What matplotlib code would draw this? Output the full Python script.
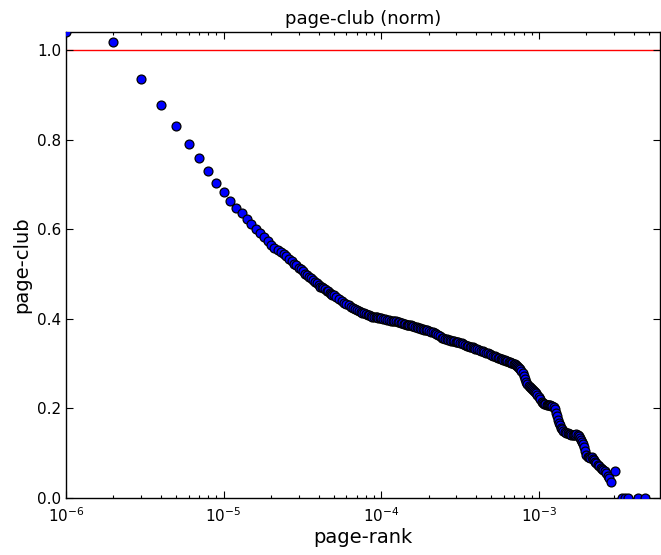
import matplotlib
matplotlib.use("Agg")
import matplotlib.pyplot as plt
from matplotlib.ticker import LogLocator, LogFormatterMathtext

# page-rank given as rank units of 1e-6
rank = [1, 2, 3, 4, 5, 6, 7, 8, 9, 10, 11, 12, 13, 14, 15, 16, 17, 18, 19, 20,
        21, 22, 23, 24, 25, 26, 27, 28, 29, 30, 31, 32, 33, 34, 35, 36, 37, 38, 39, 40,
        41, 42, 43, 44, 45, 46, 47, 48, 49, 50,
        52, 54, 56, 58, 60, 62, 64, 66, 68, 70, 72, 74, 76, 78, 80, 82, 84, 86, 88, 90,
        92, 94, 96, 98, 100,
        103, 106, 109, 112, 115, 118, 121, 124, 127, 130, 133, 136, 139, 142, 145, 148,
        151, 154, 157, 160, 164, 168, 172, 176, 180, 184, 188, 192, 196, 200,
        206, 212, 218, 224, 230, 236, 242, 248, 254, 260, 266, 272, 278, 284, 290, 296,
        302, 308, 316, 324, 332, 340, 348, 356, 364, 372, 380, 388, 396, 404,
        416, 428, 440, 452, 464, 476, 488, 500, 512, 524, 536, 548, 560, 572, 584, 596,
        608, 620, 632, 644, 656, 668, 680, 692, 704, 716, 728, 740, 752, 764, 776, 788, 800,
        815, 830, 845, 860, 875, 890, 905, 920, 935, 950, 965, 980, 1000,
        1020, 1040, 1060, 1080, 1100, 1120, 1140, 1160, 1180, 1200, 1220, 1240, 1260,
        1280, 1300, 1320, 1340, 1360, 1380, 1400, 1430, 1460, 1490, 1520, 1550, 1580,
        1610, 1640, 1670, 1700, 1730, 1760, 1790, 1820, 1850, 1880, 1910, 1940, 1970,
        2000, 2040, 2080, 2120, 2160, 2200, 2240, 2280, 2320, 2370, 2420, 2470, 2520,
        2570, 2620, 2680, 2740, 2800, 2860, 3050, 3350, 3500, 3700, 4250, 4700]
club = [1.04, 1.017, 0.934, 0.876, 0.830, 0.789, 0.758, 0.729, 0.704, 0.682, 0.663,
        0.647, 0.635, 0.622, 0.612, 0.601, 0.591, 0.582, 0.573, 0.565,
        0.559, 0.554, 0.549, 0.545, 0.540, 0.534, 0.528, 0.523, 0.519, 0.514,
        0.510, 0.506, 0.501, 0.497, 0.493, 0.490, 0.486, 0.483, 0.479, 0.475,
        0.472, 0.470, 0.468, 0.466, 0.463, 0.461, 0.458, 0.456, 0.454, 0.452,
        0.448, 0.444, 0.440, 0.436, 0.433, 0.430, 0.427, 0.424, 0.422, 0.419,
        0.417, 0.415, 0.413, 0.412, 0.410, 0.409, 0.408, 0.406, 0.405, 0.404,
        0.404, 0.403, 0.402, 0.401, 0.401,
        0.400, 0.399, 0.398, 0.397, 0.396, 0.396, 0.395, 0.394, 0.393, 0.392, 0.391,
        0.390, 0.389, 0.388, 0.387, 0.387,
        0.386, 0.385, 0.384, 0.383, 0.382, 0.381, 0.380, 0.379, 0.378, 0.377, 0.376,
        0.375, 0.374, 0.373,
        0.371, 0.370, 0.368, 0.367, 0.364, 0.361, 0.358, 0.356, 0.355, 0.354, 0.353,
        0.352, 0.351, 0.351, 0.350, 0.349,
        0.348, 0.348, 0.347, 0.346, 0.344, 0.342, 0.340, 0.339, 0.338, 0.337, 0.336,
        0.334, 0.333, 0.332,
        0.330, 0.328, 0.327, 0.326, 0.324, 0.323, 0.321, 0.319, 0.317, 0.316, 0.315,
        0.313, 0.312, 0.311, 0.310, 0.309,
        0.307, 0.306, 0.305, 0.304, 0.303, 0.302, 0.301, 0.300, 0.298, 0.297, 0.295,
        0.293, 0.290, 0.287, 0.283, 0.278, 0.272,
        0.265, 0.259, 0.255, 0.251, 0.248, 0.245, 0.243, 0.241, 0.239, 0.237, 0.234,
        0.230, 0.225,
        0.220, 0.215, 0.212, 0.210, 0.209, 0.208, 0.207, 0.208, 0.208, 0.206, 0.205,
        0.203, 0.198,
        0.190, 0.182, 0.175, 0.168, 0.162, 0.157, 0.153, 0.150, 0.148, 0.146, 0.145,
        0.143, 0.142,
        0.141, 0.140, 0.140, 0.141, 0.143, 0.141, 0.138, 0.135, 0.130, 0.126, 0.121,
        0.113, 0.104,
        0.096, 0.092, 0.091, 0.090, 0.091, 0.088, 0.084, 0.080, 0.077, 0.074, 0.071,
        0.068, 0.065,
        0.062, 0.060, 0.055, 0.050, 0.044, 0.036, 0.060, 0.0, 0.0, 0.0, 0.0, 0.0]

x = [r * 1e-6 for r in rank]

fig = plt.figure(figsize=(6.61, 5.55), dpi=100)
ax = fig.add_axes([66 / 661, 57 / 555, 594 / 661, 466 / 555])

ax.axhline(1.0, color="red", lw=1, zorder=1)
ax.plot(x, club, "o", ms=6.4, mfc="blue", mec="black", mew=0.9, zorder=3)

ax.set_xscale("log")
ax.set_xlim(1e-6, 5.87e-3)
ax.set_ylim(0, 1.04)
ax.set_yticks([0.0, 0.2, 0.4, 0.6, 0.8, 1.0])
ax.xaxis.set_major_locator(LogLocator(base=10))
ax.xaxis.set_major_formatter(LogFormatterMathtext())

ax.tick_params(which="both", direction="in", top=True, right=True, labelsize=11)
ax.tick_params(which="major", length=5, width=0.8)
ax.tick_params(which="minor", length=2.5, width=0.8)
ax.tick_params(axis="x", pad=6)
for s in ax.spines.values():
    s.set_linewidth(1)

ax.set_xlabel("page-rank", fontsize=14, labelpad=2)
ax.set_ylabel("page-club", fontsize=14, labelpad=4)
ax.set_title("page-club (norm)", fontsize=13, pad=6)

fig.savefig("out.png", dpi=100)
